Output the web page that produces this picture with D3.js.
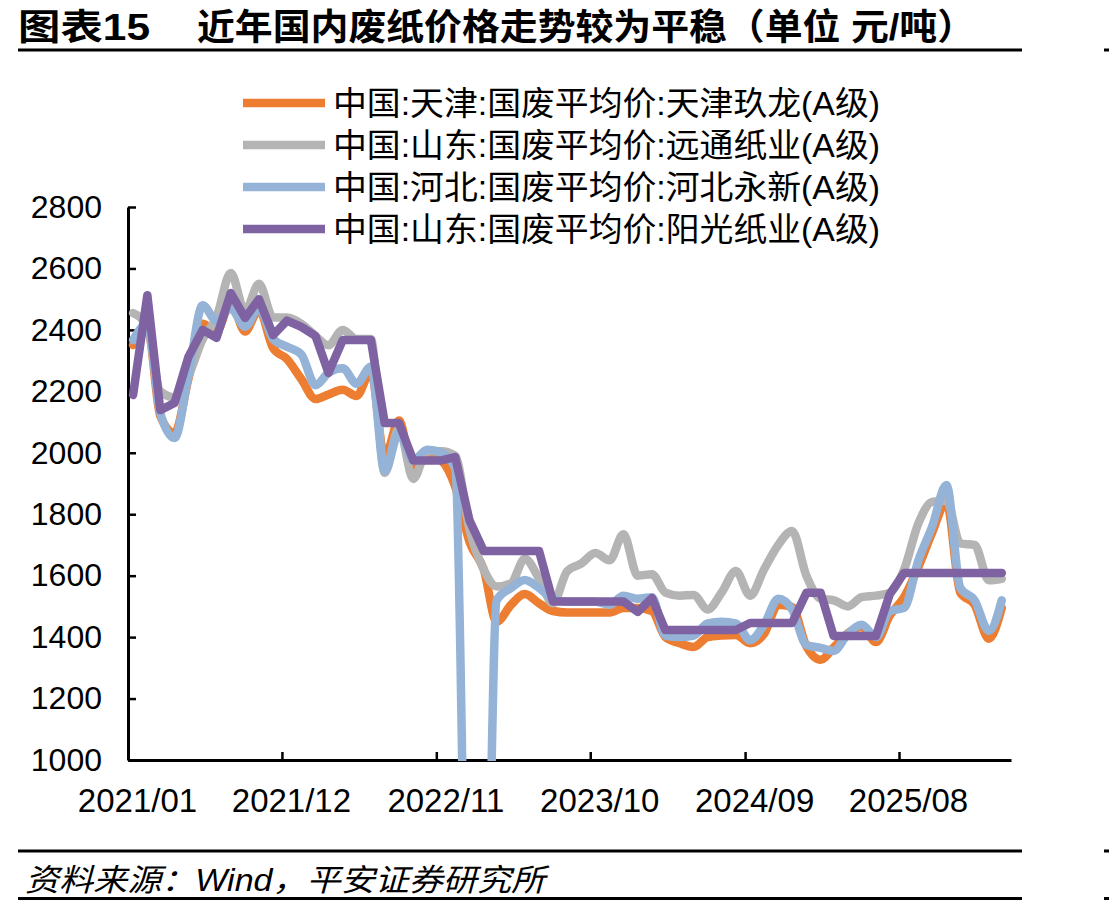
<!DOCTYPE html>
<html><head><meta charset="utf-8">
<script src="https://cdn.jsdelivr.net/npm/d3@7"></script>
<style>
html,body{margin:0;padding:0;background:#fff;}
svg{display:block;font-family:"Liberation Sans",Arial,"Noto Sans CJK SC",sans-serif;}
</style></head><body>
<svg id="c" width="1109" height="909"></svg>
<script>
const months = ["2021-01","2021-02","2021-03","2021-04","2021-05","2021-06","2021-07","2021-08","2021-09","2021-10","2021-11","2021-12",
"2022-01","2022-02","2022-03","2022-04","2022-05","2022-06","2022-07","2022-08","2022-09","2022-10","2022-11","2022-12",
"2023-01","2023-02","2023-03","2023-04","2023-05","2023-06","2023-07","2023-08","2023-09","2023-10","2023-11","2023-12",
"2024-01","2024-02","2024-03","2024-04","2024-05","2024-06","2024-07","2024-08","2024-09","2024-10","2024-11","2024-12",
"2025-01","2025-02","2025-03","2025-04","2025-05","2025-06","2025-07","2025-08","2025-09","2025-10","2025-11","2025-12",
"2026-01","2026-02","2026-03"];
const seriesNames = ["中国:天津:国废平均价:天津玖龙(A级)","中国:山东:国废平均价:远通纸业(A级)","中国:河北:国废平均价:河北永新(A级)","中国:山东:国废平均价:阳光纸业(A级)"];
const tianjin = [2351,2410,2120,2064,2240,2420,2395,2490,2395,2465,2340,2305,
2240,2175,2190,2205,2185,2265,1985,2105,1935,1995,1975,1890,
1710,1620,1450,1505,1540,1510,1485,1480,1480,1480,1480,1495,
1495,1485,1400,1380,1368,1400,1405,1407,1380,1410,1505,1498,
1370,1326,1366,1413,1433,1384,1470,1530,1628,1740,1840,1545,
1505,1395,1495];
const yuantong = [2455,2410,2200,2180,2250,2370,2440,2585,2460,2550,2440,2440,
2420,2380,2350,2400,2370,2370,1935,2080,1915,2005,2005,1990,
1750,1620,1565,1575,1655,1590,1510,1615,1640,1674,1650,1735,
1600,1605,1545,1535,1537,1490,1545,1615,1535,1620,1700,1745,
1600,1525,1520,1500,1530,1535,1545,1620,1770,1840,1845,1705,
1700,1585,1590];
const yongxin = [2367,2420,2130,2048,2250,2480,2430,2470,2410,2470,2370,2345,
2320,2220,2260,2275,2225,2280,1940,2065,1975,2010,2000,1950,
0,0,1520,1560,1586,1560,1525,1515,1515,1515,1505,1535,
1525,1530,1405,1400,1405,1445,1450,1445,1390,1440,1525,1490,
1375,1365,1355,1410,1440,1400,1485,1495,1650,1760,1895,1560,
1520,1420,1520];
const yangguang = [2188,2513,2139,2162,2312,2400,2374,2520,2439,2500,2383,2430,
2410,2380,2260,2367,2367,2367,2097,2097,1975,1975,1975,1986,
1780,1680,1680,1680,1680,1680,1516,1516,1516,1516,1516,1516,
1482,1527,1423,1423,1423,1423,1423,1423,1446,1446,1446,1446,
1544,1544,1404,1404,1404,1404,1540,1609,1609,1609,1609,1609,
1609,1609,1609];
const yTicks = [1000,1200,1400,1600,1800,2000,2200,2400,2600,2800];
const xTickLabels = ["2021/01","2021/12","2022/11","2023/10","2024/09","2025/08"];
const colors = ["#ed7d31","#b4b4b4","#95b3d7","#7e62a1"];

const svg = d3.select("#c");
const parseM = d3.timeParse("%Y-%m-%d");
const x = d3.scaleTime().domain([new Date(2021,0,1), new Date(2026,3,1)]).range([128,1011]);
const y = d3.scaleLinear().domain([1000,2800]).range([760,207]);
const dates = months.map(m => parseM(m + "-12"));

// title
svg.append("text").attr("x",18).attr("y",40).attr("font-size",36).attr("font-weight","bold")
  .attr("textLength",132).attr("lengthAdjust","spacingAndGlyphs").text("图表15");
svg.append("text").attr("x",197).attr("y",40).attr("font-size",36).attr("font-weight","bold")
  .attr("textLength",778).attr("lengthAdjust","spacingAndGlyphs").text("近年国内废纸价格走势较为平稳（单位 元/吨）");
svg.append("rect").attr("x",18).attr("y",48.5).attr("width",1004).attr("height",3).attr("fill","#000");
svg.append("rect").attr("x",1104).attr("y",48.5).attr("width",5).attr("height",3).attr("fill","#000");

// clip
svg.append("defs").append("clipPath").attr("id","plot").append("rect")
  .attr("x",128).attr("y",150).attr("width",900).attr("height",611);

const smooth = d3.line().x((d,i)=>x(dates[i])).y(d=>y(d)).curve(d3.curveMonotoneX);
const straight = d3.line().x((d,i)=>x(dates[i])).y(d=>y(d)).curve(d3.curveLinear);
const allSeries = [tianjin, yuantong, yongxin, yangguang];

// axes
const yAxis = d3.axisLeft(y).tickValues(yTicks).tickSizeInner(-8).tickSizeOuter(0).tickPadding(26).tickFormat(d3.format("d"));
const gy = svg.append("g").attr("transform","translate(128,0)").call(yAxis);
gy.selectAll("text").attr("font-size",32).attr("fill","#000");
gy.selectAll("line").attr("stroke","#000").attr("stroke-width",2.5);
gy.select(".domain").attr("stroke","#000").attr("stroke-width",3);

const xTickDates = xTickLabels.map(s => d3.timeParse("%Y/%m")(s));
const xAxis = d3.axisBottom(x).tickValues(xTickDates).tickSizeInner(-8).tickSizeOuter(0).tickPadding(29)
  .tickFormat(d3.timeFormat("%Y/%m"));
const gx = svg.append("g").attr("transform","translate(0,760)").call(xAxis);
gx.selectAll("text").attr("font-size",33).attr("fill","#000").attr("dx",9);
gx.selectAll("line").attr("stroke","#000").attr("stroke-width",2.5);
gx.select(".domain").attr("stroke","#000").attr("stroke-width",3);

// series
const gs = svg.append("g").attr("clip-path","url(#plot)");
allSeries.forEach((s,k)=>{
  gs.append("path").attr("d", (k===3?straight:smooth)(s)).attr("fill","none")
    .attr("stroke",colors[k]).attr("stroke-width",8.5)
    .attr("stroke-linejoin","round").attr("stroke-linecap","round");
});

// legend
const legY = [103,145,187,229];
seriesNames.forEach((n,k)=>{
  svg.append("line").attr("x1",243).attr("x2",325).attr("y1",legY[k]).attr("y2",legY[k])
    .attr("stroke",colors[k]).attr("stroke-width",8.5);
  svg.append("text").attr("x",333).attr("y",legY[k]).attr("dy","0.36em").attr("font-size",33)
    .attr("textLength",547).attr("lengthAdjust","spacingAndGlyphs").text(n);
});

// footer
svg.append("rect").attr("x",18).attr("y",849.5).attr("width",1004).attr("height",3).attr("fill","#000");
svg.append("rect").attr("x",1104).attr("y",849.5).attr("width",5).attr("height",3).attr("fill","#000");
svg.append("text").attr("x",25).attr("y",891).attr("font-size",31).attr("font-style","italic")
  .attr("textLength",520).attr("lengthAdjust","spacingAndGlyphs")
  .text("资料来源：Wind，平安证券研究所");
svg.append("rect").attr("x",18).attr("y",897).attr("width",1004).attr("height",3).attr("fill","#000");
svg.append("rect").attr("x",1104).attr("y",897).attr("width",5).attr("height",3).attr("fill","#000");
</script>
</body></html>
